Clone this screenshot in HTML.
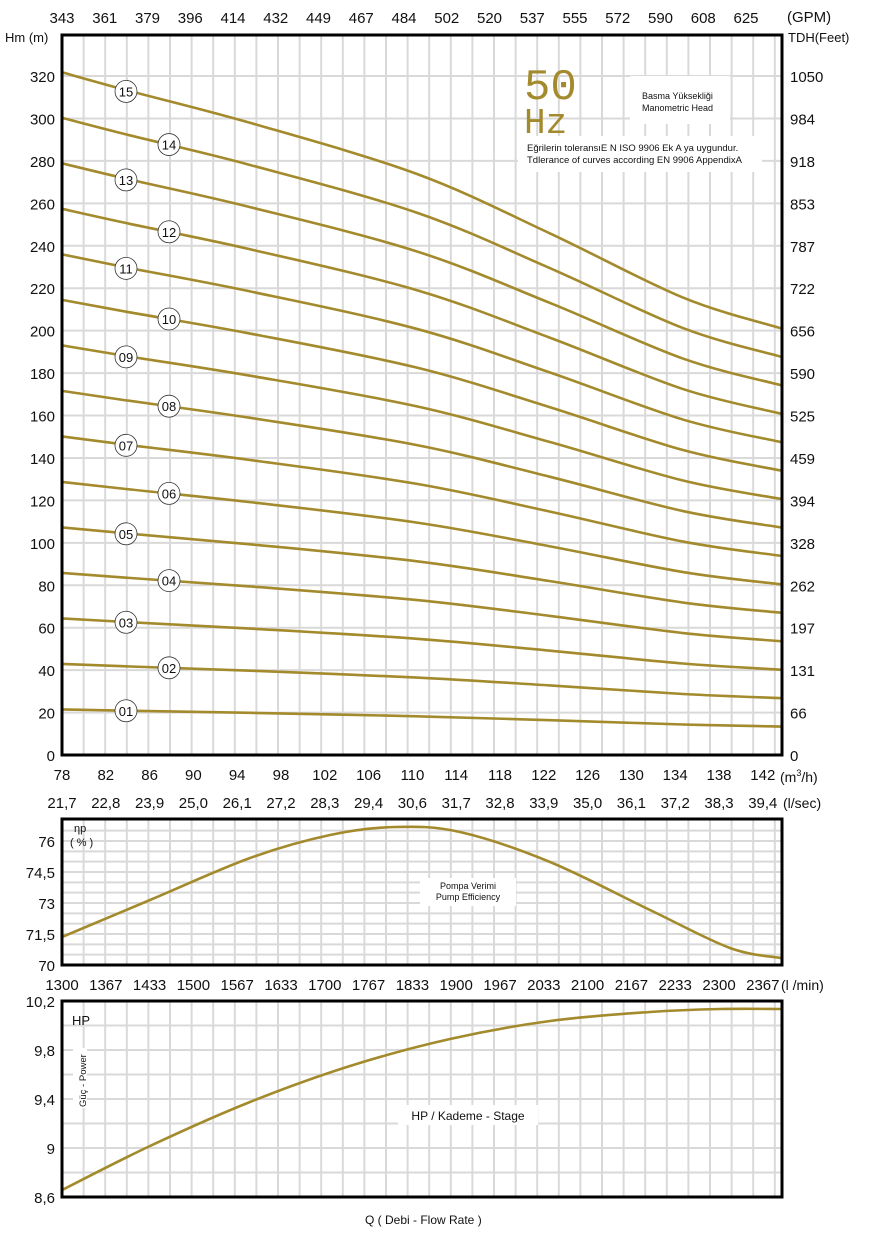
<!DOCTYPE html>
<html><head><meta charset="utf-8">
<style>
body{margin:0;background:#fff;}
svg text{font-family:"Liberation Sans",Arial,sans-serif;fill:#111;}
</style></head>
<body>
<svg id="s" width="870" height="1240" xmlns="http://www.w3.org/2000/svg">
<g id="grid" stroke="#d9d9d9" stroke-width="2"></g>
<g id="curves" fill="none" stroke="#a38a2c" stroke-width="2.6"></g>
<g id="boxes" fill="none" stroke="#000" stroke-width="3">
<rect x="62" y="35" width="720" height="720"/>
<rect x="62" y="819" width="720" height="146"/>
<rect x="62" y="1001" width="720" height="196"/>
</g>
<g id="labels"></g>
<g id="txt">
<rect x="630" y="76" width="100" height="48" fill="#fff"/>
<rect x="518" y="136" width="244" height="36" fill="#fff"/>
<text x="524" y="99" font-size="44" style="font-family:'Liberation Mono',monospace;fill:#a38a2c">50</text>
<text x="524" y="133" font-size="36" style="font-family:'Liberation Mono',monospace;fill:#a38a2c">Hz</text>
<text x="642" y="99" font-size="9">Basma Yüksekliği</text>
<text x="642" y="111" font-size="9">Manometric Head</text>
<text x="527" y="151" font-size="9.5">Eğrilerin toleransıE N ISO 9906 Ek A ya uygundur.</text>
<text x="527" y="163" font-size="9.5">Tdlerance of curves according EN 9906 AppendixA</text>
<text x="5" y="42" font-size="13">Hm (m)</text>
<text x="787" y="22" font-size="15">(GPM)</text>
<text x="788" y="42" font-size="13">TDH(Feet)</text>
<text x="780" y="782" font-size="14">(m<tspan font-size="9" dy="-6">3</tspan><tspan dy="6">/h)</tspan></text>
<text x="783" y="808" font-size="14">(l/sec)</text>
<text x="781" y="990" font-size="14">(l /min)</text>
<rect x="420" y="878" width="96" height="28" fill="#fff"/>
<text x="468" y="889" font-size="9" text-anchor="middle">Pompa Verimi</text>
<text x="468" y="900" font-size="9" text-anchor="middle">Pump Efficiency</text>
<text x="74" y="832" font-size="11">ηp</text>
<text x="70" y="846" font-size="11">( % )</text>
<text x="72" y="1025" font-size="13">HP</text>
<rect x="73" y="1048" width="14" height="60" fill="#fff"/>
<text transform="translate(86,1107) rotate(-90)" font-size="9.5">Güç - Power</text>
<rect x="398" y="1105" width="140" height="20" fill="#fff"/>
<text x="468" y="1120" font-size="12" text-anchor="middle">HP / Kademe - Stage</text>
<text x="365" y="1224" font-size="12">Q     ( Debi - Flow Rate )</text>
</g>
</svg>
<script>
var NS="http://www.w3.org/2000/svg",s=document.getElementById('s');
function el(p,t,a,txt){var e=document.createElementNS(NS,t);for(var k in a)e.setAttribute(k,a[k]);if(txt!==undefined)e.textContent=txt;p.appendChild(e);return e;}
var g=document.getElementById('grid');
for(var x=62+21.6;x<781;x+=21.6){el(g,'line',{x1:x,y1:35,x2:x,y2:755});el(g,'line',{x1:x,y1:819,x2:x,y2:965});el(g,'line',{x1:x,y1:1001,x2:x,y2:1197});}
var yp=function(h){return 755-h*(679/320);};
for(var h=20;h<=340;h+=20){var y=yp(h);if(y>36)el(g,'line',{x1:62,y1:y,x2:781,y2:y});}
for(var v=70.5;v<77;v+=0.5){var y=965-(v-70)*124/6;if(y>820)el(g,'line',{x1:62,y1:y,x2:781,y2:y});}
for(var v=8.8;v<10.2;v+=0.2){var y=1197-(v-8.6)*196/1.6;el(g,'line',{x1:62,y1:y,x2:781,y2:y});}
function path(pts){var d='M'+pts[0][0]+','+pts[0][1];for(var i=0;i<pts.length-1;i++){var p0=pts[i-1]||pts[i],p1=pts[i],p2=pts[i+1],p3=pts[i+2]||p2;d+=' C'+(p1[0]+(p2[0]-p0[0])/6)+','+(p1[1]+(p2[1]-p0[1])/6)+' '+(p2[0]-(p3[0]-p1[0])/6)+','+(p2[1]-(p3[1]-p1[1])/6)+' '+p2[0]+','+p2[1];}return d;}
var c=document.getElementById('curves');
var shape=[[62,1],[126,0.974],[250,0.926],[417,0.851],[550,0.764],[683,0.670],[781,0.625]];
var lab=document.getElementById('labels');
for(var n=1;n<=15;n++){var H0=21.45*n;var pts=shape.map(function(p){return [p[0],yp(H0*p[1])];});el(c,'path',{d:path(pts)});
var lx=(n%2)?126:169;var f=(n%2)?0.972:0.958;var ly=yp(H0*f);
el(lab,'circle',{cx:lx,cy:ly,r:11,fill:'#fff',stroke:'#333','stroke-width':0.8});
el(lab,'text',{x:lx,y:ly+5,'font-size':13,'text-anchor':'middle'},(n<10?'0':'')+n);}
el(c,'path',{d:path([[62,937],[150,900],[250,858],[330,835],[395,827],[460,832],[550,862],[650,910],[730,948],[781,958]])});
el(c,'path',{d:path([[62,1190],[150,1146],[250,1102],[350,1066],[450,1039],[550,1021],[650,1012],[720,1009],[781,1009]])});
var T=document.getElementById('txt');
for(var h=0;h<=320;h+=20){el(T,'text',{x:55,y:yp(h)+6,'font-size':15,'text-anchor':'end'},h);}
var ft=[0,66,131,197,262,328,394,459,525,590,656,722,787,853,918,984,1050];
ft.forEach(function(f,i){el(T,'text',{x:790,y:yp(i*20)+6,'font-size':15},f);});
var gpm=[343,361,379,396,414,432,449,467,484,502,520,537,555,572,590,608,625];
gpm.forEach(function(v,i){el(T,'text',{x:62+i*42.75,y:23,'font-size':15,'text-anchor':'middle'},v);});
for(var i=0;i<=16;i++){var x=62+i*43.8;el(T,'text',{x:x,y:780,'font-size':15,'text-anchor':'middle'},78+4*i);}
var ls=['21,7','22,8','23,9','25,0','26,1','27,2','28,3','29,4','30,6','31,7','32,8','33,9','35,0','36,1','37,2','38,3','39,4'];
ls.forEach(function(v,i){el(T,'text',{x:62+i*43.8,y:808,'font-size':15,'text-anchor':'middle'},v);});
var lm=[1300,1367,1433,1500,1567,1633,1700,1767,1833,1900,1967,2033,2100,2167,2233,2300,2367];
lm.forEach(function(v,i){el(T,'text',{x:62+i*43.8,y:990,'font-size':15,'text-anchor':'middle'},v);});
[['76',76],['74,5',74.5],['73',73],['71,5',71.5],['70',70]].forEach(function(p){el(T,'text',{x:55,y:965-(p[1]-70)*124/6+6,'font-size':15,'text-anchor':'end'},p[0]);});
[['10,2',10.2],['9,8',9.8],['9,4',9.4],['9',9],['8,6',8.6]].forEach(function(p){el(T,'text',{x:55,y:1197-(p[1]-8.6)*196/1.6+6,'font-size':15,'text-anchor':'end'},p[0]);});
</script>
</body></html>
